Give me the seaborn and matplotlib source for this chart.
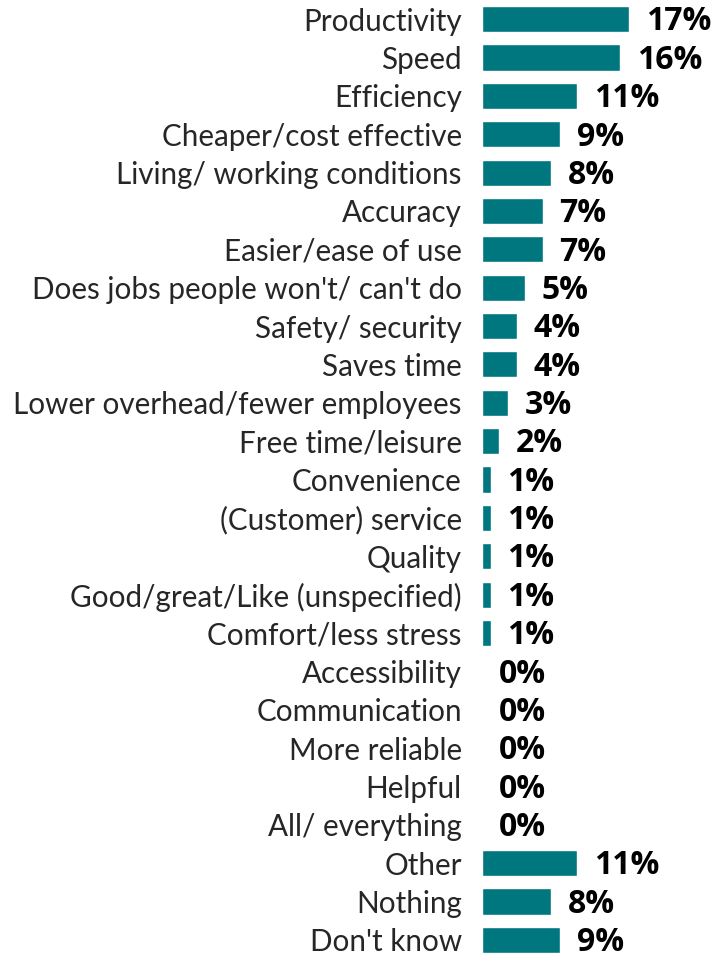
import matplotlib
matplotlib.use("Agg")
import matplotlib.pyplot as plt
import seaborn as sns
import pandas as pd

categories = [
    "Productivity", "Speed", "Efficiency", "Cheaper/cost effective",
    "Living/ working conditions", "Accuracy", "Easier/ease of use",
    "Does jobs people won't/ can't do", "Safety/ security", "Saves time",
    "Lower overhead/fewer employees", "Free time/leisure", "Convenience",
    "(Customer) service", "Quality", "Good/great/Like (unspecified)",
    "Comfort/less stress", "Accessibility", "Communication", "More reliable",
    "Helpful", "All/ everything", "Other", "Nothing", "Don't know",
]
values = [17, 16, 11, 9, 8, 7, 7, 5, 4, 4, 3, 2, 1, 1, 1, 1, 1,
          0, 0, 0, 0, 0, 11, 8, 9]

df = pd.DataFrame({"category": categories, "pct": values})

sns.set_theme(style="white")
plt.rcParams["font.family"] = ["Lato", "DejaVu Sans"]

fig = plt.figure(figsize=(7.13, 9.59), dpi=100)
ax = fig.add_axes([0.676, 0.0, 0.324, 1.0])

sns.barplot(data=df, y="category", x="pct", orient="h", color="#00777F",
            width=0.68, saturation=1, ax=ax)

for cont in ax.containers:
    anns = ax.bar_label(cont, labels=[f"{v}%" for v in values], padding=12,
                        fontsize=23, fontweight="bold", family="Open Sans",
                        color="black")
    for a in anns:
        x, y = a.xyann
        a.xyann = (x, y - 2)

ax.set_xlim(0, 26.7)
ax.set_ylim(len(categories) - 0.5, -0.5)
ax.set_xlabel("")
ax.set_ylabel("")
ax.set_xticks([])
ax.tick_params(axis="y", length=0, pad=14.5, labelsize=21.3, labelcolor="#262626")
sns.despine(ax=ax, left=True, bottom=True)

fig.savefig("out.png", dpi=100)
